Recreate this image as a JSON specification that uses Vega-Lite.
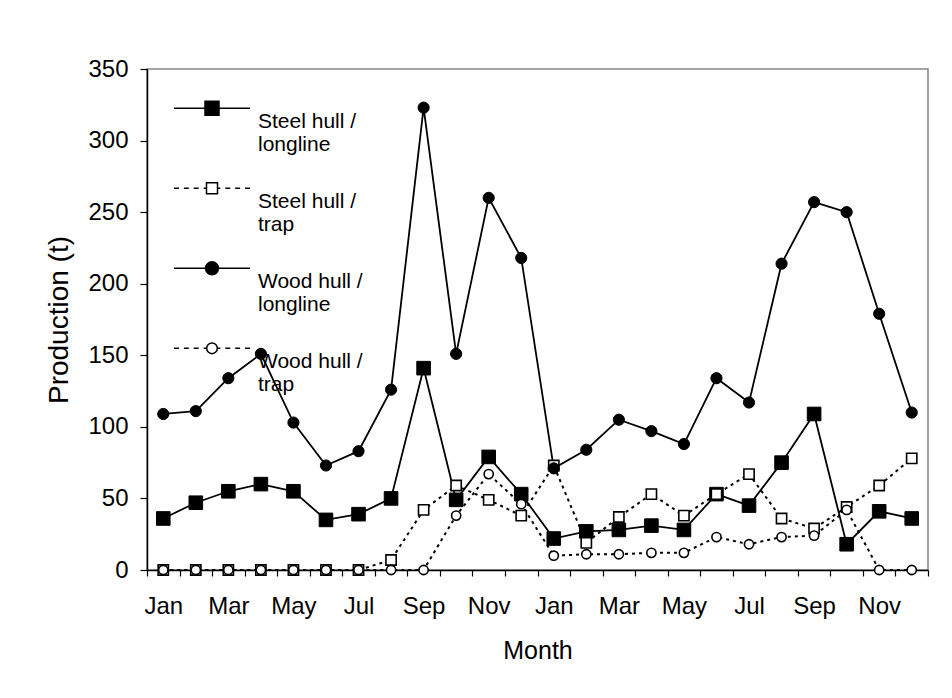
{
  "$schema": "https://vega.github.io/schema/vega-lite/v6.json",
  "width": 781,
  "height": 501,
  "autosize": "none",
  "padding": {"left": 147, "top": 69, "right": 24, "bottom": 128},
  "background": "white",
  "config": {
    "font": "Liberation Sans",
    "view": {"stroke": "#888888", "strokeWidth": 1.5},
    "axis": {
      "domainColor": "black",
      "domainWidth": 1.5,
      "tickColor": "black",
      "tickWidth": 1.2,
      "tickSize": 6,
      "labelColor": "black",
      "titleColor": "black",
      "titleFontWeight": "normal",
      "grid": false
    }
  },
  "data": {
    "values": [
      {"month": "Y1 Jan", "series": "Steel hull / longline", "production": 36},
      {"month": "Y1 Feb", "series": "Steel hull / longline", "production": 47},
      {"month": "Y1 Mar", "series": "Steel hull / longline", "production": 55},
      {"month": "Y1 Apr", "series": "Steel hull / longline", "production": 60},
      {"month": "Y1 May", "series": "Steel hull / longline", "production": 55},
      {"month": "Y1 Jun", "series": "Steel hull / longline", "production": 35},
      {"month": "Y1 Jul", "series": "Steel hull / longline", "production": 39},
      {"month": "Y1 Aug", "series": "Steel hull / longline", "production": 50},
      {"month": "Y1 Sep", "series": "Steel hull / longline", "production": 141},
      {"month": "Y1 Oct", "series": "Steel hull / longline", "production": 49},
      {"month": "Y1 Nov", "series": "Steel hull / longline", "production": 79},
      {"month": "Y1 Dec", "series": "Steel hull / longline", "production": 53},
      {"month": "Y2 Jan", "series": "Steel hull / longline", "production": 22},
      {"month": "Y2 Feb", "series": "Steel hull / longline", "production": 27},
      {"month": "Y2 Mar", "series": "Steel hull / longline", "production": 28},
      {"month": "Y2 Apr", "series": "Steel hull / longline", "production": 31},
      {"month": "Y2 May", "series": "Steel hull / longline", "production": 28},
      {"month": "Y2 Jun", "series": "Steel hull / longline", "production": 53},
      {"month": "Y2 Jul", "series": "Steel hull / longline", "production": 45},
      {"month": "Y2 Aug", "series": "Steel hull / longline", "production": 75},
      {"month": "Y2 Sep", "series": "Steel hull / longline", "production": 109},
      {"month": "Y2 Oct", "series": "Steel hull / longline", "production": 18},
      {"month": "Y2 Nov", "series": "Steel hull / longline", "production": 41},
      {"month": "Y2 Dec", "series": "Steel hull / longline", "production": 36},
      {"month": "Y1 Jan", "series": "Steel hull / trap", "production": 0},
      {"month": "Y1 Feb", "series": "Steel hull / trap", "production": 0},
      {"month": "Y1 Mar", "series": "Steel hull / trap", "production": 0},
      {"month": "Y1 Apr", "series": "Steel hull / trap", "production": 0},
      {"month": "Y1 May", "series": "Steel hull / trap", "production": 0},
      {"month": "Y1 Jun", "series": "Steel hull / trap", "production": 0},
      {"month": "Y1 Jul", "series": "Steel hull / trap", "production": 0},
      {"month": "Y1 Aug", "series": "Steel hull / trap", "production": 7},
      {"month": "Y1 Sep", "series": "Steel hull / trap", "production": 42},
      {"month": "Y1 Oct", "series": "Steel hull / trap", "production": 59},
      {"month": "Y1 Nov", "series": "Steel hull / trap", "production": 49},
      {"month": "Y1 Dec", "series": "Steel hull / trap", "production": 38},
      {"month": "Y2 Jan", "series": "Steel hull / trap", "production": 73},
      {"month": "Y2 Feb", "series": "Steel hull / trap", "production": 19},
      {"month": "Y2 Mar", "series": "Steel hull / trap", "production": 37},
      {"month": "Y2 Apr", "series": "Steel hull / trap", "production": 53},
      {"month": "Y2 May", "series": "Steel hull / trap", "production": 38},
      {"month": "Y2 Jun", "series": "Steel hull / trap", "production": 53},
      {"month": "Y2 Jul", "series": "Steel hull / trap", "production": 67},
      {"month": "Y2 Aug", "series": "Steel hull / trap", "production": 36},
      {"month": "Y2 Sep", "series": "Steel hull / trap", "production": 29},
      {"month": "Y2 Oct", "series": "Steel hull / trap", "production": 44},
      {"month": "Y2 Nov", "series": "Steel hull / trap", "production": 59},
      {"month": "Y2 Dec", "series": "Steel hull / trap", "production": 78},
      {"month": "Y1 Jan", "series": "Wood hull / longline", "production": 109},
      {"month": "Y1 Feb", "series": "Wood hull / longline", "production": 111},
      {"month": "Y1 Mar", "series": "Wood hull / longline", "production": 134},
      {"month": "Y1 Apr", "series": "Wood hull / longline", "production": 151},
      {"month": "Y1 May", "series": "Wood hull / longline", "production": 103},
      {"month": "Y1 Jun", "series": "Wood hull / longline", "production": 73},
      {"month": "Y1 Jul", "series": "Wood hull / longline", "production": 83},
      {"month": "Y1 Aug", "series": "Wood hull / longline", "production": 126},
      {"month": "Y1 Sep", "series": "Wood hull / longline", "production": 323},
      {"month": "Y1 Oct", "series": "Wood hull / longline", "production": 151},
      {"month": "Y1 Nov", "series": "Wood hull / longline", "production": 260},
      {"month": "Y1 Dec", "series": "Wood hull / longline", "production": 218},
      {"month": "Y2 Jan", "series": "Wood hull / longline", "production": 71},
      {"month": "Y2 Feb", "series": "Wood hull / longline", "production": 84},
      {"month": "Y2 Mar", "series": "Wood hull / longline", "production": 105},
      {"month": "Y2 Apr", "series": "Wood hull / longline", "production": 97},
      {"month": "Y2 May", "series": "Wood hull / longline", "production": 88},
      {"month": "Y2 Jun", "series": "Wood hull / longline", "production": 134},
      {"month": "Y2 Jul", "series": "Wood hull / longline", "production": 117},
      {"month": "Y2 Aug", "series": "Wood hull / longline", "production": 214},
      {"month": "Y2 Sep", "series": "Wood hull / longline", "production": 257},
      {"month": "Y2 Oct", "series": "Wood hull / longline", "production": 250},
      {"month": "Y2 Nov", "series": "Wood hull / longline", "production": 179},
      {"month": "Y2 Dec", "series": "Wood hull / longline", "production": 110},
      {"month": "Y1 Jan", "series": "Wood hull / trap", "production": 0},
      {"month": "Y1 Feb", "series": "Wood hull / trap", "production": 0},
      {"month": "Y1 Mar", "series": "Wood hull / trap", "production": 0},
      {"month": "Y1 Apr", "series": "Wood hull / trap", "production": 0},
      {"month": "Y1 May", "series": "Wood hull / trap", "production": 0},
      {"month": "Y1 Jun", "series": "Wood hull / trap", "production": 0},
      {"month": "Y1 Jul", "series": "Wood hull / trap", "production": 0},
      {"month": "Y1 Aug", "series": "Wood hull / trap", "production": 0},
      {"month": "Y1 Sep", "series": "Wood hull / trap", "production": 0},
      {"month": "Y1 Oct", "series": "Wood hull / trap", "production": 38},
      {"month": "Y1 Nov", "series": "Wood hull / trap", "production": 67},
      {"month": "Y1 Dec", "series": "Wood hull / trap", "production": 46},
      {"month": "Y2 Jan", "series": "Wood hull / trap", "production": 10},
      {"month": "Y2 Feb", "series": "Wood hull / trap", "production": 11},
      {"month": "Y2 Mar", "series": "Wood hull / trap", "production": 11},
      {"month": "Y2 Apr", "series": "Wood hull / trap", "production": 12},
      {"month": "Y2 May", "series": "Wood hull / trap", "production": 12},
      {"month": "Y2 Jun", "series": "Wood hull / trap", "production": 23},
      {"month": "Y2 Jul", "series": "Wood hull / trap", "production": 18},
      {"month": "Y2 Aug", "series": "Wood hull / trap", "production": 23},
      {"month": "Y2 Sep", "series": "Wood hull / trap", "production": 24},
      {"month": "Y2 Oct", "series": "Wood hull / trap", "production": 42},
      {"month": "Y2 Nov", "series": "Wood hull / trap", "production": 0},
      {"month": "Y2 Dec", "series": "Wood hull / trap", "production": 0}
    ]
  },
  "encoding": {
    "x": {
      "field": "month",
      "type": "nominal",
      "sort": null,
      "scale": {"type": "band", "paddingInner": 0, "paddingOuter": 0},
      "axis": {
        "title": "Month",
        "titleFontSize": 25,
        "titlePadding": 20,
        "labelFontSize": 24,
        "labelAngle": 0,
        "labelPadding": 18,
        "labelOverlap": false,
        "tickBand": "extent",
        "labelExpr": "indexof(['Jan','Mar','May','Jul','Sep','Nov'], slice(datum.value + '', 3)) >= 0 ? slice(datum.value + '', 3) : ''"
      }
    },
    "y": {
      "field": "production",
      "type": "quantitative",
      "scale": {"domain": [0, 350], "nice": false},
      "axis": {
        "title": "Production (t)",
        "titleFontSize": 28,
        "titlePadding": 14,
        "labelFontSize": 24,
        "labelPadding": 12,
        "tickSize": 7,
        "values": [0, 50, 100, 150, 200, 250, 300, 350]
      }
    }
  },
  "layer": [
    {
      "transform": [{"filter": "indexof(datum.series, 'longline') >= 0"}],
      "mark": {"type": "line", "color": "black", "strokeWidth": 1.8},
      "encoding": {"detail": {"field": "series", "type": "nominal"}}
    },
    {
      "transform": [{"filter": "indexof(datum.series, 'trap') >= 0"}],
      "mark": {"type": "line", "color": "black", "strokeWidth": 2, "strokeDash": [3, 4]},
      "encoding": {"detail": {"field": "series", "type": "nominal"}}
    },
    {
      "transform": [{"filter": "datum.series == 'Steel hull / longline'"}],
      "mark": {"type": "point", "shape": "square", "size": 185, "filled": true, "fill": "black", "stroke": "black", "strokeWidth": 1, "opacity": 1},
      "encoding": {}
    },
    {
      "transform": [{"filter": "datum.series == 'Steel hull / trap'"}],
      "mark": {"type": "point", "shape": "square", "size": 105, "filled": true, "fill": "white", "stroke": "black", "strokeWidth": 1.6, "opacity": 1},
      "encoding": {}
    },
    {
      "transform": [{"filter": "datum.series == 'Wood hull / longline'"}],
      "mark": {"type": "point", "shape": "circle", "size": 125, "filled": true, "fill": "black", "stroke": "black", "strokeWidth": 1, "opacity": 1},
      "encoding": {}
    },
    {
      "transform": [{"filter": "datum.series == 'Wood hull / trap'"}],
      "mark": {"type": "point", "shape": "circle", "size": 85, "filled": true, "fill": "white", "stroke": "black", "strokeWidth": 1.6, "opacity": 1},
      "encoding": {}
    },
    {
      "mark": {"type": "point", "filled": false, "color": "black", "strokeWidth": 1.5, "opacity": 0},
      "encoding": {
        "shape": {
          "field": "series",
          "type": "nominal",
          "scale": {
            "domain": ["Steel hull / longline", "Steel hull / trap", "Wood hull / longline", "Wood hull / trap"],
            "range": [
              "M-1,-0.36H1M-0.184,-0.544H0.184V-0.176H-0.184ZM-0.145,-0.505H0.145V-0.215H-0.145ZM-0.106,-0.466H0.106V-0.254H-0.106ZM-0.067,-0.427H0.067V-0.293H-0.067ZM-0.028,-0.388H0.028V-0.332H-0.028Z",
              "M-1,-0.36H-0.87M-0.74,-0.36H-0.61M-0.48,-0.36H-0.35M-0.22,-0.36H-0.145M0.145,-0.36H0.22M0.35,-0.36H0.48M0.61,-0.36H0.74M0.87,-0.36H1M-0.145,-0.505H0.145V-0.215H-0.145Z",
              "M-1,-0.36H1M-0.17,-0.36A0.17,0.17,0,1,0,0.17,-0.36A0.17,0.17,0,1,0,-0.17,-0.36ZM-0.131,-0.36A0.131,0.131,0,1,0,0.131,-0.36A0.131,0.131,0,1,0,-0.131,-0.36ZM-0.092,-0.36A0.092,0.092,0,1,0,0.092,-0.36A0.092,0.092,0,1,0,-0.092,-0.36ZM-0.053,-0.36A0.053,0.053,0,1,0,0.053,-0.36A0.053,0.053,0,1,0,-0.053,-0.36ZM-0.016,-0.36A0.016,0.016,0,1,0,0.016,-0.36A0.016,0.016,0,1,0,-0.016,-0.36Z",
              "M-1,-0.36H-0.87M-0.74,-0.36H-0.61M-0.48,-0.36H-0.35M-0.22,-0.36H-0.14M0.14,-0.36H0.22M0.35,-0.36H0.48M0.61,-0.36H0.74M0.87,-0.36H1M-0.14,-0.36A0.14,0.14,0,1,0,0.14,-0.36A0.14,0.14,0,1,0,-0.14,-0.36Z"
            ]
          },
          "legend": {
            "title": null,
            "orient": "none",
            "legendX": 26,
            "legendY": 14,
            "direction": "vertical",
            "padding": 0,
            "symbolSize": 5776,
            "symbolStrokeColor": "black",
            "symbolStrokeWidth": 1.5,
            "symbolOpacity": 1,
            "labelFontSize": 21,
            "labelColor": "black",
            "labelBaseline": "middle",
            "labelOffset": 7,
            "labelLimit": 300,
            "rowPadding": 8,
            "labelExpr": "[slice(datum.label, 0, indexof(datum.label, '/') + 1), slice(datum.label, indexof(datum.label, '/') + 2)]",
            "encoding": {
              "labels": {"update": {"lineHeight": {"value": 27}}},
              "symbols": {"update": {"opacity": {"value": 1}, "stroke": {"value": "black"}, "fill": {"value": "transparent"}}}
            }
          }
        }
      }
    }
  ]
}
